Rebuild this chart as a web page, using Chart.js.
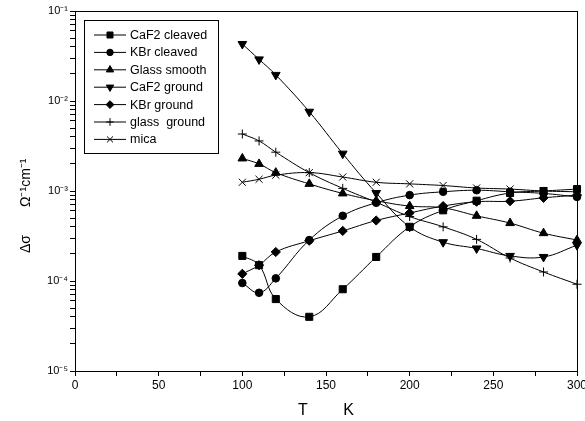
<!DOCTYPE html>
<html>
<head>
<meta charset="utf-8">
<script src="https://cdn.jsdelivr.net/npm/chart.js@4.4.0/dist/chart.umd.min.js"></script>
<style>
  html, body { margin: 0; padding: 0; background: #fff; }
</style>
</head>
<body>
<canvas id="chart" width="585" height="421"></canvas>
<script>
// temperatures (K) shared by every series
const temps = [100, 110, 120, 140, 160, 180, 200, 220, 240, 260, 280, 300];

// delta sigma values, Ohm^-1 cm^-1
const caf2Cleaved = [1.9e-4, 1.5e-4, 6.3e-5, 4.0e-5, 8.1e-5, 1.85e-4, 4.0e-4, 6.1e-4, 7.8e-4, 9.5e-4, 1.0e-3, 1.05e-3];
const kbrCleaved  = [9.5e-5, 7.4e-5, 1.07e-4, 2.85e-4, 5.3e-4, 7.4e-4, 9.0e-4, 9.8e-4, 1.02e-3, 9.8e-4, 9.4e-4, 8.6e-4];
const glassSmooth = [2.3e-3, 2.0e-3, 1.6e-3, 1.2e-3, 9.4e-4, 7.8e-4, 6.8e-4, 6.5e-4, 5.3e-4, 4.4e-4, 3.4e-4, 2.85e-4];
const caf2Ground  = [4.3e-2, 2.9e-2, 1.95e-2, 7.6e-3, 2.6e-3, 9.5e-4, 4.0e-4, 2.7e-4, 2.3e-4, 1.9e-4, 1.85e-4, 2.5e-4];
const kbrGround   = [1.2e-4, 1.5e-4, 2.1e-4, 2.8e-4, 3.6e-4, 4.7e-4, 5.7e-4, 6.8e-4, 7.6e-4, 7.7e-4, 8.4e-4, 9.0e-4];
const glassGround = [4.3e-3, 3.6e-3, 2.7e-3, 1.6e-3, 1.07e-3, 7.5e-4, 5.2e-4, 4.0e-4, 2.9e-4, 1.8e-4, 1.26e-4, 9.2e-5];
const mica        = [1.25e-3, 1.35e-3, 1.5e-3, 1.6e-3, 1.43e-3, 1.25e-3, 1.2e-3, 1.15e-3, 1.08e-3, 1.05e-3, 1.0e-3, 9.8e-4];

const seriesNames = ['CaF2 cleaved', 'KBr cleaved', 'Glass smooth', 'CaF2 ground', 'KBr ground', 'glass  ground', 'mica'];
const seriesValues = [caf2Cleaved, kbrCleaved, glassSmooth, caf2Ground, kbrGround, glassGround, mica];

// axis ticks
const xTickLabels = [0, 50, 100, 150, 200, 250, 300];
const yTickValues = [1e-5, 1e-4, 1e-3, 1e-2, 1e-1];
const yTickLabels = ['10⁻⁵', '10⁻⁴', '10⁻³', '10⁻²', '10⁻¹'];

// marker for each series (same order as names)
const markers = [
  { pointStyle: 'rect', radius: 5, rotation: 0 },
  { pointStyle: 'circle', radius: 3.8, rotation: 0 },
  { pointStyle: 'triangle', radius: 5, rotation: 0 },
  { pointStyle: 'triangle', radius: 5, rotation: 180 },
  { pointStyle: 'rectRot', radius: 4.6, rotation: 0 },
  { pointStyle: 'cross', radius: 4.5, rotation: 0 },
  { pointStyle: 'crossRot', radius: 5, rotation: 0 }
];

const FONT = 'Arial, "Liberation Sans", sans-serif';

const datasets = seriesNames.map((name, i) => ({
  label: name,
  data: temps.map((t, j) => ({ x: t, y: seriesValues[i][j] })),
  borderColor: '#000',
  borderWidth: 1,
  backgroundColor: '#000',
  pointStyle: markers[i].pointStyle,
  pointRadius: markers[i].radius,
  pointRotation: markers[i].rotation,
  pointBorderWidth: 1,
  pointBackgroundColor: '#000',
  pointBorderColor: '#000',
  tension: 0.4,
  clip: false
}));

// box round the plot (top and right sides)
const framePlugin = {
  id: 'frame',
  afterDatasetsDraw(chart) {
    const { ctx, chartArea: a } = chart;
    ctx.save();
    ctx.strokeStyle = '#000';
    ctx.lineWidth = 1;
    ctx.strokeRect(Math.round(a.left) + 0.5, Math.round(a.top) + 0.5,
      Math.round(a.right - a.left), Math.round(a.bottom - a.top));
    ctx.restore();
  }
};

// legend drawn inside the plot, top left, with a box
const boxLegend = {
  id: 'boxLegend',
  afterDraw(chart) {
    const { ctx, chartArea: a } = chart;
    const left = a.left + 9, top = a.top + 9;
    ctx.save();
    ctx.fillStyle = '#fff';
    ctx.fillRect(left, top, 134, 133);
    ctx.strokeStyle = '#000';
    ctx.lineWidth = 1;
    ctx.strokeRect(left + 0.5, top + 0.5, 134, 133);
    ctx.font = '12.5px ' + FONT;
    ctx.textBaseline = 'middle';
    chart.data.datasets.forEach((ds, i) => {
      const y = top + 15 + i * 17.4;
      ctx.strokeStyle = '#000';
      ctx.fillStyle = '#000';
      ctx.lineWidth = 1;
      ctx.beginPath();
      ctx.moveTo(left + 10, y);
      ctx.lineTo(left + 42, y);
      ctx.stroke();
      Chart.helpers.drawPoint(ctx, {
        pointStyle: ds.pointStyle,
        rotation: ds.pointRotation,
        radius: ds.pointRadius * 0.85,
        borderWidth: 1
      }, left + 26, y);
      ctx.fillStyle = '#000';
      ctx.fillText(ds.label, left + 46, y + 0.5);
    });
    ctx.restore();
  }
};

// y axis title placed like the original (not centred on the axis)
const yTitle = {
  id: 'yTitle',
  afterDraw(chart) {
    const { ctx } = chart;
    ctx.save();
    ctx.fillStyle = '#000';
    ctx.translate(30, 253);
    ctx.rotate(-Math.PI / 2);
    ctx.textBaseline = 'alphabetic';
    ctx.textAlign = 'left';
    ctx.font = '14px ' + FONT;
    ctx.fillText('Δσ', 0, 0);
    ctx.fillText('Ω⁻¹cm⁻¹', 46, 0);
    ctx.restore();
  }
};

new Chart(document.getElementById('chart').getContext('2d'), {
  type: 'line',
  data: { datasets },
  plugins: [framePlugin, boxLegend, yTitle],
  options: {
    responsive: false,
    animation: false,
    layout: { padding: { left: 0, right: 8, top: 11, bottom: 0 } },
    plugins: {
      legend: { display: false },
      tooltip: { enabled: false }
    },
    scales: {
      x: {
        type: 'linear',
        min: 0,
        max: 300,
        border: { color: '#000', width: 1 },
        grid: { drawOnChartArea: false, drawTicks: true, tickLength: 5, color: '#000' },
        ticks: {
          stepSize: 25,
          autoSkip: false,
          maxRotation: 0,
          padding: 2,
          color: '#000',
          font: { family: FONT, size: 12 },
          callback: (v) => xTickLabels.includes(v) ? String(v) : ''
        },
        title: {
          display: true,
          text: 'T        K',
          color: '#000',
          font: { family: FONT, size: 16 },
          padding: { top: 0, bottom: 1 }
        },
        afterFit: (scale) => {
          scale.height = 50;
          scale.paddingLeft = 0;
          scale.paddingRight = 0;
        }
      },
      y: {
        type: 'logarithmic',
        min: 1e-5,
        max: 1e-1,
        border: { color: '#000', width: 1 },
        grid: { drawOnChartArea: false, drawTicks: true, tickLength: 5, color: '#000' },
        ticks: {
          autoSkip: false,
          padding: 2,
          color: '#000',
          font: { family: FONT, size: 11 },
          callback: (v) => {
            const k = yTickValues.findIndex(t => Math.abs(Math.log10(t) - Math.log10(v)) < 1e-6);
            return k >= 0 ? yTickLabels[k] : '';
          }
        },
        afterBuildTicks: (scale) => {
          // 1..9 per decade, minor ones unlabelled
          const list = [];
          for (let d = 0; d < yTickValues.length - 1; d++) {
            for (let m = 1; m <= 9; m++) list.push({ value: m * yTickValues[d] });
          }
          list.push({ value: yTickValues[yTickValues.length - 1] });
          scale.ticks = list;
        },
        afterFit: (scale) => {
          scale.width = 75;
          scale.paddingTop = 0;
          scale.paddingBottom = 0;
        }
      }
    }
  }
});
</script>
</body>
</html>
